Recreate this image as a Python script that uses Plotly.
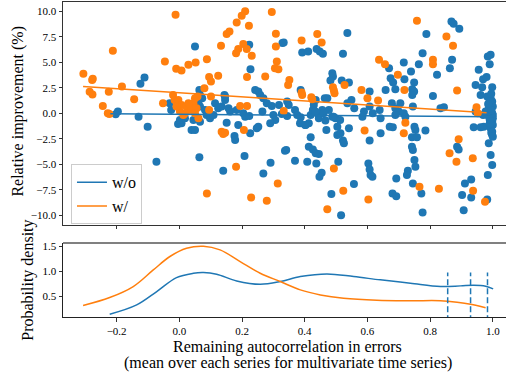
import plotly.graph_objects as go

# ---------------- data ----------------
wo_x = [-0.111, -0.124, -0.196, -0.203, -0.130, -0.101, -0.073, -0.031, -0.026, -0.004,
        0.050, 0.223, 0.329, 0.227, 0.064, 0.066, 0.073, 0.061, 0.066, 0.082,
        0.087, 0.093, 0.114, 0.124, 0.135, 0.144, 0.146, 0.157, 0.162, 0.151,
        0.183, 0.188, 0.176, 0.178, 0.204, 0.210, 0.223, 0.226, 0.208, 0.247,
        0.252, 0.252, 0.258, 0.268, 0.265, 0.279, 0.295, 0.300, 0.306, 0.318,
        0.327, 0.290, 0.291, 0.268, 0.140, 0.064, 0.337, 0.039, 0.050, 0.007,
        0.002, 0.018, 0.045, 0.066, 0.098, 0.109, 0.242, 0.146,
        0.536, 0.333, 0.392, 0.411, 0.438, 0.448, 0.458, 0.522, 0.488, 0.490,
        0.482, 0.518, 0.541, 0.387, 0.344, 0.349, 0.344, 0.369, 0.376, 0.387,
        0.403, 0.413, 0.419, 0.426, 0.429, 0.435, 0.440, 0.445, 0.456, 0.464,
        0.472, 0.466, 0.469, 0.488, 0.498, 0.504, 0.504, 0.514, 0.522, 0.525,
        0.541, 0.549, 0.558, 0.419, 0.341, 0.413, 0.426, 0.435, 0.445, 0.408,
        0.437, 0.369, 0.454, 0.447, 0.507, 0.557, 0.485, 0.516, 0.589, 0.584,
        0.607, 0.607, 0.617, 0.639, 0.642, 0.642, 0.607, 0.603, 0.607, 0.610,
        0.616, 0.658, 0.671, 0.669, 0.674, 0.680, 0.536, 0.477,
        0.434, 0.460, 0.492, 0.513, 0.385, 0.401,
        0.868, 0.875, 0.893, 0.788, 0.776, 0.716, 0.764, 0.870, 0.863, 0.739,
        0.822, 0.718, 0.749, 0.682, 0.689, 0.743, 0.749, 0.743, 0.809, 0.678,
        0.705, 0.689, 0.700, 0.716, 0.689, 0.721, 0.745, 0.833, 0.844, 0.681,
        0.750, 0.753, 0.785, 0.742, 0.758, 0.742, 0.745, 0.750, 0.753, 0.729,
        0.726, 0.745, 0.692, 0.692, 0.772, 0.776, 0.886, 0.891, 0.911, 0.931,
        0.902, 0.931, 0.907, 0.982, 0.945, 0.955, 0.969, 0.980, 0.984, 0.993,
        0.990, 0.998, 0.966, 0.961, 0.982, 0.939, 0.961, 0.971, 0.987, 0.993,
        0.998, 0.984, 0.993, 0.998, 0.993, 1.000, 0.993, 0.998, 1.000, 0.993,
        0.998, 1.000, 0.993, 0.998, 0.998, 0.987, 0.982, 0.977, 0.969, 0.945,
        0.995, 0.990, 0.995, 1.000, 0.990, 0.995, 1.000, 0.985, 0.990]
wo_y = [3.50, 2.88, 0.16, -0.10, -0.33, -1.31, -4.75, 0.98, 0.33, -1.05,
        6.55, 6.71, 6.88, 4.32, 2.29, 1.80, 1.47, 0.98, 0.65, 0.33,
        -0.16, 0.00, 0.98, 0.49, 0.65, 1.80, 1.31, 0.49, 0.16, -0.92,
        0.33, -1.15, -2.23, -2.62, 0.00, -0.33, -0.26, -1.96, -4.19, -1.47,
        -1.31, 2.13, 1.80, 1.47, 0.16, 0.98, 0.72, -0.16, -0.65, 0.82,
        -0.07, -0.98, -4.85, -5.89, -5.63, -4.32, -3.67, -1.64, -1.64, -0.98,
        -0.65, -0.49, -0.65, -0.82, -0.49, -0.16, 2.29, 1.64,
        7.86, 6.94, 5.96, 6.06, 6.29, 6.06, 5.83, 5.83, 3.93, 3.60,
        3.21, 3.21, 3.01, 2.29, 1.15, 0.82, -0.26, 0.33, -0.16, -0.39,
        -1.15, -0.98, -0.16, 0.33, 0.82, 1.31, 0.00, -0.49, 0.33, 1.47,
        1.47, -0.72, -1.64, -0.33, -0.49, -1.31, -2.13, -1.96, -2.68, -2.95,
        -1.47, 1.31, 0.49, -2.36, -3.60, -3.27, -3.54, -3.93, -4.00, -4.75,
        -4.91, -4.65, -5.83, -6.22, -4.75, -6.94, -7.92, -9.99, 0.16, -0.33,
        2.13, 0.65, 0.00, 0.33, -0.49, -1.96, -2.68, -4.91, -5.50, -6.06,
        -6.22, 2.29, -1.31, 4.42, 3.44, -7.86, 0.98, 0.33,
        0.16, 0.00, -0.33, -0.66, -0.98, -1.15,
        9.00, 8.78, 8.28, 7.76, 5.89, 4.98, 4.81, 5.24, 4.42, 4.09,
        3.77, 3.34, 3.01, 3.01, 2.36, 2.36, 2.13, 1.80, 1.70, 0.98,
        0.98, 0.49, 0.16, 0.00, -0.16, -0.33, 0.65, 0.49, 0.59, -1.38,
        -1.31, -1.64, -1.70, -2.36, -2.36, -3.27, -3.60, -4.58, -5.24, -5.63,
        -6.06, -6.88, -6.39, -8.12, -7.86, -9.73, -3.27, -3.54, -6.88, -6.48,
        -8.02, -8.25, -9.50, -8.45, 2.78, 4.26, 3.34, 3.54, 5.57, 5.73,
        4.81, 2.55, 2.55, 1.80, 1.64, -1.38, -1.38, -1.31, -2.95, -4.09,
        -5.07, -6.06, 1.47, 1.15, 0.82, 0.65, 0.33, 0.00, -0.16, -0.49,
        -0.82, -1.15, -1.47, -1.80, -2.13, 0.49, -0.16, 0.16, -0.16, 0.16,
        1.90, 1.20, 0.30, -0.50, -1.00, -1.90, -2.30, 0.90, -0.60]

w_x = [-0.012, -0.212, -0.306, -0.276, -0.278, -0.286, -0.277, -0.225, -0.183, -0.144,
       -0.244, -0.228, -0.223, -0.046, -0.010, -0.052, -0.020, -0.015,
       0.210, 0.199, 0.183, 0.222, 0.295, 0.160, 0.151, 0.308, 0.133, 0.204,
       0.188, 0.215, 0.181, 0.231, 0.308, 0.311, 0.305, 0.316, 0.088, 0.052,
       0.029, 0.007, 0.095, 0.101, 0.124, 0.216, 0.274, 0.080, 0.101, 0.050,
       0.058, -0.003, 0.007, 0.023, 0.034, 0.018, 0.002, 0.045, 0.039, 0.029,
       0.055, -0.009, 0.013, 0.050, 0.061, 0.095, 0.135, 0.140, 0.146, 0.194,
       0.216, 0.206, 0.181, 0.088, 0.229, 0.279, 0.314,
       0.440, 0.390, 0.454, 0.351, 0.347, 0.390, 0.392, 0.421, 0.424, 0.490,
       0.493, 0.495, 0.527, 0.581, 0.600, 0.634, 0.637, 0.656, 0.333, 0.591,
       0.493, 0.523, 0.472, 0.603,
       0.758, 0.852, 0.873, 0.809, 0.809, 0.697, 0.718, 0.886, 0.721, 0.716,
       0.948, 0.952, 0.891, 0.862, 0.884, 0.936, 0.766, 0.828, 0.937, 0.975]
w_y = [9.66, 6.12, 3.86, 3.37, 3.27, 2.10, 1.83, 2.10, 2.62, 1.38,
       0.72, 0.00, -0.07, 5.08, 4.35, 0.98, 1.80, 1.31,
       9.99, 9.56, 8.90, 8.58, 9.92, 8.02, 7.76, 7.79, 6.61, 6.78,
       6.29, 6.29, 5.89, 5.63, 6.55, 5.08, 4.42, 4.32, 5.30, 4.98,
       4.75, 4.19, 3.54, 3.11, 3.67, 3.54, 3.60, 2.46, 1.64, 1.47,
       1.64, 1.31, 0.82, 0.65, 0.33, 0.00, 0.16, 0.98, 0.49, 0.98,
       0.49, 0.65, -0.16, 0.00, -0.49, 0.33, -1.80, -2.03, -1.90, 0.72,
       0.72, -1.64, -5.24, -7.86, -8.25, -8.58, -6.88,
       7.76, 7.14, 6.94, 3.27, 2.78, 2.03, 1.80, 1.57, 1.38, 2.55,
       2.23, 1.96, 2.78, 2.29, 1.47, 1.24, 5.24, 4.81, 0.23, -1.70,
       -5.40, -7.60, -9.40, -8.45,
       9.07, 7.53, 6.61, 5.24, 4.81, 3.77, 2.29, 2.23, -0.92, -1.96,
       0.59, 0.00, -2.55, -3.93, -4.75, -4.42, -7.20, -7.40, -7.60, -8.68]

# regression (trend) lines
wo_fit_x = [-0.22, 1.0]
wo_fit_y = [-0.05, -0.33]
w_fit_x = [-0.307, 0.98]
w_fit_y = [2.62, 0.05]

# density curves
kde_wo_x = [-0.222, -0.136, -0.072, -0.009, 0.045, 0.077, 0.119, 0.183, 0.258, 0.322,
            0.386, 0.471, 0.556, 0.641, 0.737, 0.833, 0.897, 0.939, 0.977, 1.001]
kde_wo_y = [0.138, 0.326, 0.595, 0.876, 0.963, 0.977, 0.943, 0.809, 0.742, 0.796,
            0.896, 0.950, 0.896, 0.830, 0.762, 0.695, 0.709, 0.722, 0.702, 0.648]
kde_w_x = [-0.307, -0.222, -0.147, -0.083, -0.030, 0.023, 0.077, 0.130, 0.194, 0.258,
           0.322, 0.386, 0.450, 0.524, 0.630, 0.737, 0.833, 0.886, 0.929, 0.977]
kde_w_y = [0.313, 0.474, 0.695, 1.03, 1.30, 1.466, 1.507, 1.433, 1.198, 0.963,
           0.796, 0.628, 0.527, 0.46, 0.42, 0.41, 0.41, 0.38, 0.34, 0.27]
vlines_x = [0.856, 0.929, 0.983]
vline_top = 0.977

x_ticks = [-0.2, 0.0, 0.2, 0.4, 0.6, 0.8, 1.0]
y_ticks = [-10.0, -7.5, -5.0, -2.5, 0.0, 2.5, 5.0, 7.5, 10.0]
y2_ticks = [0.5, 1.0, 1.5]

BLUE = "#1f77b4"
ORANGE = "#ff7f0e"
FONT = "'Liberation Serif', 'Times New Roman', 'DejaVu Serif', serif"
TITLE_SIZE = 16

fig = go.Figure()
fig.add_trace(go.Scatter(x=wo_x, y=wo_y, mode="markers", marker=dict(color=BLUE, size=8),
                         showlegend=False, xaxis="x", yaxis="y"))
fig.add_trace(go.Scatter(x=w_x, y=w_y, mode="markers", marker=dict(color=ORANGE, size=8),
                         showlegend=False, xaxis="x", yaxis="y"))
fig.add_trace(go.Scatter(x=wo_fit_x, y=wo_fit_y, mode="lines", line=dict(color=BLUE, width=1.5),
                         name="w/o", xaxis="x", yaxis="y"))
fig.add_trace(go.Scatter(x=w_fit_x, y=w_fit_y, mode="lines", line=dict(color=ORANGE, width=1.5),
                         name="w/", xaxis="x", yaxis="y"))

fig.add_trace(go.Scatter(x=kde_wo_x, y=kde_wo_y, mode="lines", line=dict(color=BLUE, width=1.5, shape="spline"),
                         showlegend=False, xaxis="x2", yaxis="y2"))
fig.add_trace(go.Scatter(x=kde_w_x, y=kde_w_y, mode="lines", line=dict(color=ORANGE, width=1.5, shape="spline"),
                         showlegend=False, xaxis="x2", yaxis="y2"))
for vx in vlines_x:
    fig.add_trace(go.Scatter(x=[vx, vx], y=[0.0, vline_top], mode="lines",
                             line=dict(color=BLUE, width=1.5, dash="6px,3px"),
                             showlegend=False, xaxis="x2", yaxis="y2"))

XR = [-0.371, 1.042]
tickfont = dict(family=FONT, size=11, color="#000")
tfont = dict(family=FONT, size=TITLE_SIZE, color="#000")
fig.update_layout(
    width=506, height=375,
    margin=dict(l=63, r=0, t=2, b=58),
    plot_bgcolor="white", paper_bgcolor="white",
    font=dict(family=FONT, color="#000"),
    hovermode=False,
    xaxis=dict(domain=[0, 1], anchor="y", range=XR, tickvals=x_ticks, showticklabels=False,
               ticks="outside", ticklen=3.5, tickcolor="#333", showline=True, mirror=True,
               linecolor="#333", linewidth=1, showgrid=False, zeroline=False),
    yaxis=dict(domain=[0.2936, 1.0], anchor="x", range=[-10.9, 10.9], tickvals=y_ticks,
               tickformat=".1f", ticks="outside", ticklen=3.5, tickcolor="#333", tickfont=tickfont,
               showline=True, linecolor="#333", linewidth=1, showgrid=False, zeroline=False),
    xaxis2=dict(domain=[0, 1], anchor="y2", range=XR, tickvals=x_ticks, tickformat=".1f",
                ticks="outside", ticklen=3.5, tickcolor="#333", tickfont=tickfont,
                showline=True, linecolor="#222", linewidth=1, showgrid=False, zeroline=False),
    yaxis2=dict(domain=[0, 0.235], anchor="x2", range=[0.083, 1.572], tickvals=y2_ticks,
                tickformat=".1f", ticks="outside", ticklen=3.5, tickcolor="#333", tickfont=tickfont,
                showline=True, linecolor="#222", linewidth=1, showgrid=False, zeroline=False),
    legend=dict(x=0.018, y=0.485, xanchor="left", yanchor="top",
                font=tfont, bgcolor="rgba(255,255,255,0.8)", bordercolor="#cccccc", borderwidth=1),
    shapes=[dict(type="line", xref="x2 domain", yref="y2 domain", x0=0, x1=1, y0=1, y1=1,
                 line=dict(color="#808080", width=2))],
    annotations=[
        dict(text="Relative improvement (%)", xref="paper", yref="paper", x=(18.5 - 63) / 443,
             y=(316.7 - 111) / 314.7, textangle=-90, showarrow=False, xanchor="center",
             yanchor="middle", font=tfont),
        dict(text="Probability density", xref="paper", yref="paper", x=(28.5 - 63) / 443,
             y=(316.7 - 280) / 314.7, textangle=-90, showarrow=False, xanchor="center",
             yanchor="middle", font=tfont),
        dict(text="Remaining autocorrelation in errors", xref="paper", yref="paper",
             x=(287.5 - 63) / 443, y=(316.7 - 347) / 314.7, showarrow=False, xanchor="center",
             yanchor="middle", font=tfont),
        dict(text="(mean over each series for multivariate time series)", xref="paper", yref="paper",
             x=(287.5 - 63) / 443, y=(316.7 - 362.5) / 314.7, showarrow=False, xanchor="center",
             yanchor="middle", font=tfont),
    ],
)

fig.write_html("out.html", config={"displayModeBar": False},
               post_script="document.body.style.margin='0';document.body.style.padding='0';")
